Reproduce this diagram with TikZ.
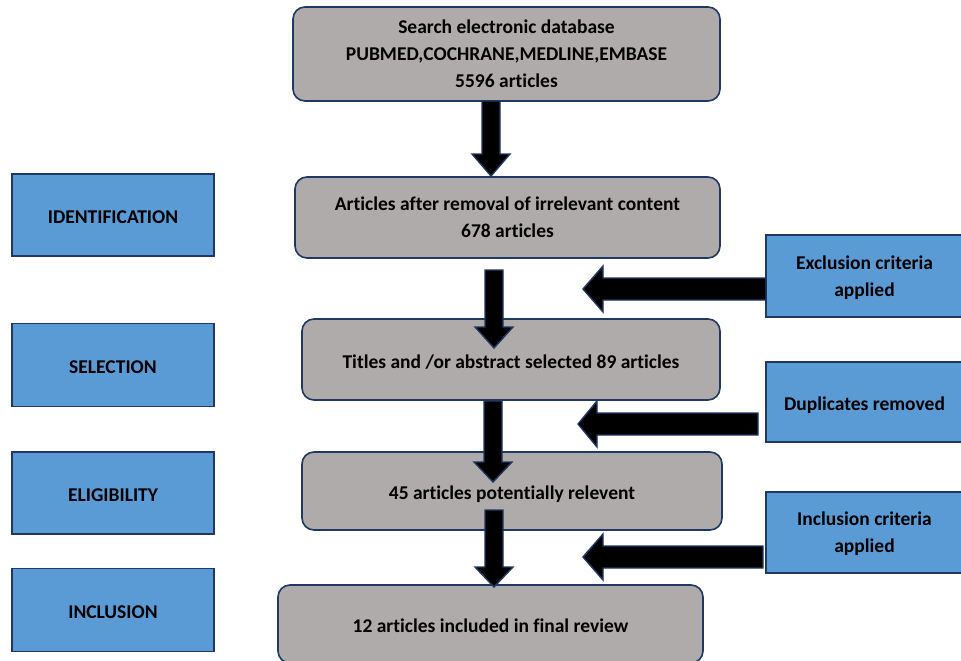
\documentclass[tikz,border=0pt]{standalone}
\usepackage{fontspec}
\setmainfont[Ligatures=NoCommon]{Carlito}
\usetikzlibrary{calc}
\definecolor{boxgray}{RGB}{175,171,170}
\definecolor{boxblue}{RGB}{91,155,213}
\definecolor{edgenavy}{RGB}{32,56,100}
\tikzset{
  x=1pt, y=-1pt,
  base/.style={draw=edgenavy, line width=1.6pt, inner sep=0pt, outer sep=0pt,
    align=center, text=black, font=\fontsize{19.5}{27}\selectfont\bfseries},
  graybox/.style={base, fill=boxgray, rounded corners=12pt},
  bluebox/.style={base, fill=boxblue},
  oneline/.style={text height=21pt, text depth=4pt},
  multiline/.style={text depth=0pt},
  barrow/.style={fill=black, draw=edgenavy, line width=1.4pt, line join=miter}
}
% down block arrow: x, shaft top y, head base y, tip y
\newcommand\downblock[4]{%
  \draw[barrow] (#1-9,#2) -- (#1+9,#2) -- (#1+9,#3) -- (#1+19,#3) -- (#1,#4)
    -- (#1-19,#3) -- (#1-9,#3) -- cycle;}
% left block arrow: y, tip x, head base x, shaft end x
\newcommand\leftblock[4]{%
  \draw[barrow] (#2,#1) -- (#3,#1-23) -- (#3,#1-11) -- (#4,#1-11) -- (#4,#1+11)
    -- (#3,#1+11) -- (#3,#1+23) -- cycle;}
\begin{document}
\begin{tikzpicture}
\useasboundingbox (0,0) rectangle (961,661);
\clip (0,0) rectangle (961,661);
\fill[white] (0,0) rectangle (961,661);

% main column
\node[graybox, multiline, minimum width=427pt, minimum height=94pt] (s1) at (506.5,54)
  {Search electronic database\\PUBMED,COCHRANE,MEDLINE,EMBASE\\5596 articles};
\node[graybox, multiline, minimum width=425pt, minimum height=81pt] (s2) at (507.5,217.5)
  {Articles after removal of irrelevant content\\678 articles};
\node[graybox, oneline, minimum width=418pt, minimum height=81pt] (s3) at (511,359.5)
  {Titles and /or abstract selected 89 articles};
\node[graybox, oneline, minimum width=420pt, minimum height=78pt] (s4) at (512,491)
  {45 articles potentially relevent};
\node[graybox, oneline, minimum width=425pt, minimum height=78pt] (s5) at (490.5,624)
  {12 articles included in final review};

% left phase labels
\node[bluebox, oneline, minimum width=202pt, minimum height=82pt] (l1) at (113,215) {IDENTIFICATION};
\node[bluebox, oneline, minimum width=202pt, minimum height=83pt] (l2) at (113,365) {SELECTION};
\node[bluebox, oneline, minimum width=202pt, minimum height=82pt] (l3) at (113,493) {ELIGIBILITY};
\node[bluebox, oneline, minimum width=202pt, minimum height=83pt] (l4) at (113,610) {INCLUSION};

% right boxes
\node[bluebox, multiline, minimum width=197pt, minimum height=82pt] (r1) at (864.5,276)
  {Exclusion criteria\\applied};
\node[bluebox, oneline, minimum width=197pt, minimum height=80pt] (r2) at (864.5,402)
  {Duplicates removed};
\node[bluebox, multiline, minimum width=197pt, minimum height=81pt] (r3) at (864.5,532.5)
  {Inclusion criteria\\applied};

% down arrows
\downblock{491}{101}{154}{176}
\downblock{494}{270}{327}{348}
\downblock{493}{401}{462}{482}
\downblock{494}{510}{567}{587}

% left arrows
\leftblock{289}{583}{603}{766}
\leftblock{424}{578}{597}{758}
\leftblock{557}{583}{603}{763}
\end{tikzpicture}
\end{document}
